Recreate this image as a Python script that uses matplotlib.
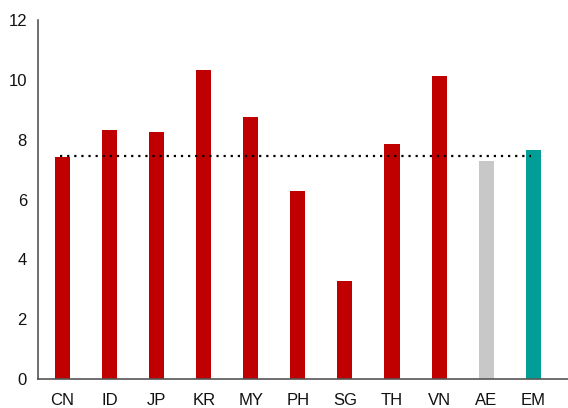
import matplotlib
matplotlib.use("Agg")
import matplotlib.pyplot as plt

plt.rcParams['font.family'] = ['Liberation Sans', 'DejaVu Sans']

pays = ['CN', 'ID', 'JP', 'KR', 'MY', 'PH', 'SG', 'TH', 'VN', 'AE', 'EM']
valeurs = [7.42, 8.31, 8.27, 10.34, 8.76, 6.29, 3.28, 7.84, 10.13, 7.30, 7.67]
couleurs = ['#C00000'] * 9 + ['#C8C8C8', '#009E96']
moyenne = 7.46

fig = plt.figure(figsize=(5.68, 4.08), dpi=100)
ax = fig.add_axes([0.067, 0.071, 0.933, 0.880])

x = list(range(len(pays)))
ax.bar(x, valeurs, width=0.32, color=couleurs)

# ligne de référence pointillée
ax.plot([-0.05, 9.95], [moyenne, moyenne], color='black', linestyle=(0, (1, 2.2)), linewidth=1.6)

ax.set_xlim(-0.52, 10.74)
ax.set_ylim(0, 12)
ax.set_yticks(range(0, 13, 2))
ax.set_xticks(x)
ax.set_xticklabels(pays)
ax.tick_params(axis='both', length=0, labelsize=12, colors='#111111')
ax.tick_params(axis='x', pad=10)
ax.tick_params(axis='y', pad=8)

for s in ['top', 'right']:
    ax.spines[s].set_visible(False)
for s in ['left', 'bottom']:
    ax.spines[s].set_color('#555555')
    ax.spines[s].set_linewidth(1.2)

fig.savefig('out.png', dpi=100)
